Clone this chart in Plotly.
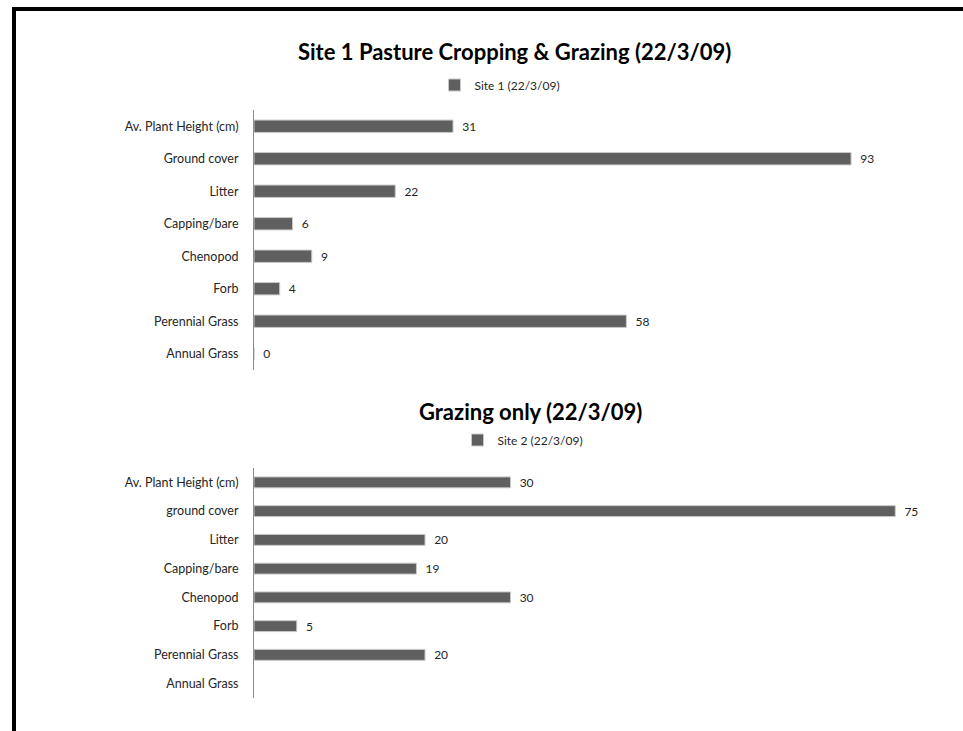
import plotly.graph_objects as go

W, H = 963, 731

categories1 = ["Av. Plant Height (cm)", "Ground cover", "Litter", "Capping/bare",
               "Chenopod", "Forb", "Perennial Grass", "Annual Grass"]
values1 = [31, 93, 22, 6, 9, 4, 58, 0]

categories2 = ["Av. Plant Height (cm)", "ground cover", "Litter", "Capping/bare",
               "Chenopod", "Forb", "Perennial Grass", "Annual Grass"]
values2 = [30, 75, 20, 19, 30, 5, 20, None]

title1 = "Site 1 Pasture Cropping & Grazing (22/3/09)"
title2 = "Grazing only (22/3/09)"
series1 = "Site 1 (22/3/09)"
series2 = "Site 2 (22/3/09)"

FONT = "Lato, 'Liberation Sans', sans-serif"
BAR = "#5f5f5f"
TXT = "#262626"

def px(x):
    return x / W

def py(y):
    return 1 - y / H

fig = go.Figure()
fig.add_trace(go.Bar(
    y=categories1, x=values1, orientation="h", name=series1,
    marker=dict(color=BAR, line=dict(color="#c8c8c8", width=1)),
    texttemplate="\u00a0\u00a0%{x}", textposition="outside", constraintext="none",
    textfont=dict(size=12, color=TXT, family=FONT), cliponaxis=False,
    xaxis="x", yaxis="y", legend="legend", showlegend=True,
))
fig.add_trace(go.Bar(
    y=categories2, x=values2, orientation="h", name=series2,
    marker=dict(color=BAR, line=dict(color="#c8c8c8", width=1)),
    texttemplate="\u00a0\u00a0%{x}", textposition="outside", constraintext="none",
    textfont=dict(size=12, color=TXT, family=FONT), cliponaxis=False,
    xaxis="x2", yaxis="y2", legend="legend2", showlegend=True,
))

xl, xr = 254, 950
common_x = dict(showgrid=False, zeroline=False, showline=False, showticklabels=False, ticks="")
common_y = dict(showgrid=False, zeroline=False, showline=True, linecolor="#8c8c8c", linewidth=1,
                ticks="", autorange="reversed", ticklabelstandoff=12,
                tickfont=dict(size=12.5, color=TXT, family=FONT))

fig.update_layout(
    width=W, height=H,
    margin=dict(l=0, r=0, t=0, b=0),
    paper_bgcolor="white", plot_bgcolor="white",
    bargap=0.62,
    font=dict(family=FONT, color=TXT),
    xaxis=dict(domain=[px(xl), px(xr)], range=[0, (xr - xl) / 6.42], anchor="y", **common_x),
    yaxis=dict(domain=[py(370), py(110)], anchor="x", **common_y),
    xaxis2=dict(domain=[px(xl), px(xr)], range=[0, (xr - xl) / 8.55], anchor="y2", **common_x),
    yaxis2=dict(domain=[py(698), py(468)], anchor="x2", **common_y),
    legend=dict(x=px(500), y=py(85), xanchor="center", yanchor="middle", orientation="h",
                font=dict(size=12, color=TXT, family=FONT), itemwidth=30,
                bgcolor="rgba(0,0,0,0)"),
    legend2=dict(x=px(523), y=py(440), xanchor="center", yanchor="middle", orientation="h",
                 font=dict(size=12, color=TXT, family=FONT), itemwidth=30,
                 bgcolor="rgba(0,0,0,0)"),
    annotations=[
        dict(text="<b>" + title1 + "</b>", x=px(514), y=py(52), xref="paper", yref="paper",
             showarrow=False, xanchor="center", yanchor="middle",
             font=dict(size=22, color="#000000", family=FONT)),
        dict(text="<b>" + title2 + "</b>", x=px(530), y=py(411), xref="paper", yref="paper",
             showarrow=False, xanchor="center", yanchor="middle",
             font=dict(size=22, color="#000000", family=FONT)),
    ],
    shapes=[
        dict(type="rect", xref="paper", yref="paper",
             x0=px(14), x1=1.05, y0=-0.05, y1=py(9),
             line=dict(color="#000000", width=4), fillcolor="rgba(0,0,0,0)", layer="above"),
    ],
)

fig.write_html("out.html")
